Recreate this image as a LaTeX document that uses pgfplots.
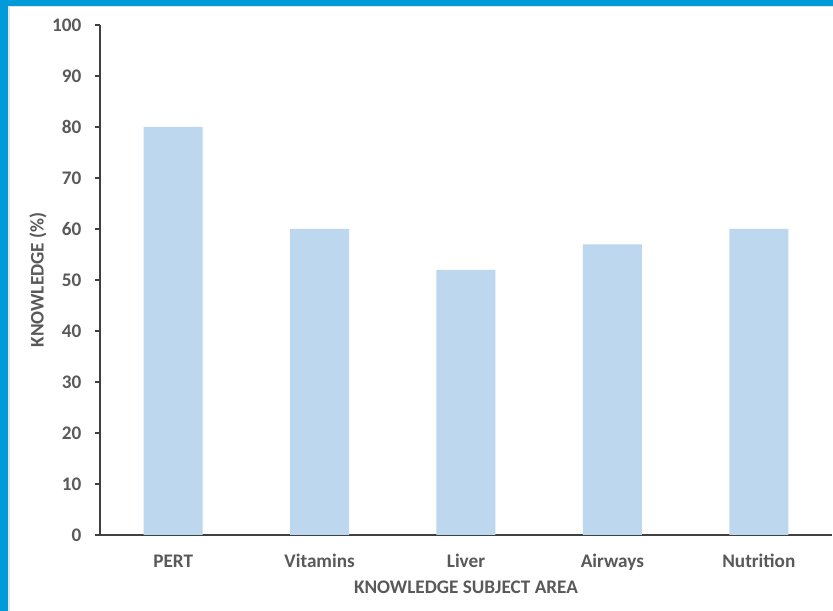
\documentclass[border=0pt]{standalone}
\usepackage{pgfplots}
\pgfplotsset{compat=1.18}
\usepackage{fontspec}
\setmainfont{Carlito}
\definecolor{frameblue}{HTML}{009BD8}
\definecolor{barblue}{HTML}{BDD7EE}
\definecolor{labelgray}{HTML}{595959}
\definecolor{axisgray}{HTML}{404040}
\definecolor{shadowgray}{HTML}{E6E6E6}
\begin{document}
\begin{tikzpicture}[x=0.75pt,y=0.75pt]
% page background and frame
\fill[white] (0,0) rectangle (833,611);
\fill[shadowgray] (8,0) rectangle (10,605);
\fill[shadowgray] (8,603.5) rectangle (833,605);
\fill[frameblue] (0,605) rectangle (833,611);
\fill[frameblue] (0,0) rectangle (8,611);
\begin{axis}[
  at={(75pt,57pt)}, anchor=south west,
  scale only axis,
  width=549pt, height=382.5pt,
  xmin=-0.5, xmax=4.5,
  ymin=0, ymax=100,
  ytick={0,10,...,100},
  xtick=data,
  xticklabels={PERT,Vitamins,Liver,Airways,Nutrition},
  axis x line=bottom, axis y line=left,
  axis line style={-, axisgray, line width=0.9pt},
  major x tick style={draw=none},
  major y tick style={axisgray, line width=0.9pt},
  tick align=outside,
  major tick length=3.75pt,
  ybar, bar width=44.25pt,
  font=\fontsize{14.4}{17}\selectfont\bfseries,
  /pgf/number format/assume math mode=true,
  tick label style={text=labelgray},
  yticklabel style={anchor=east, inner sep=0pt, xshift=-10pt},
  xticklabel style={anchor=base, yshift=-21pt},
  xlabel={KNOWLEDGE SUBJECT AREA},
  ylabel={KNOWLEDGE (\%)},
  label style={text=labelgray},
  xlabel style={at={(axis description cs:0.5,0)}, anchor=center, yshift=-39pt},
  ylabel style={at={(axis description cs:0,0.5)}, anchor=center, yshift=46.5pt},
]
\addplot[fill=barblue, draw=none] coordinates {(0,80) (1,60) (2,52) (3,57) (4,60)};
\end{axis}
\end{tikzpicture}
\end{document}
